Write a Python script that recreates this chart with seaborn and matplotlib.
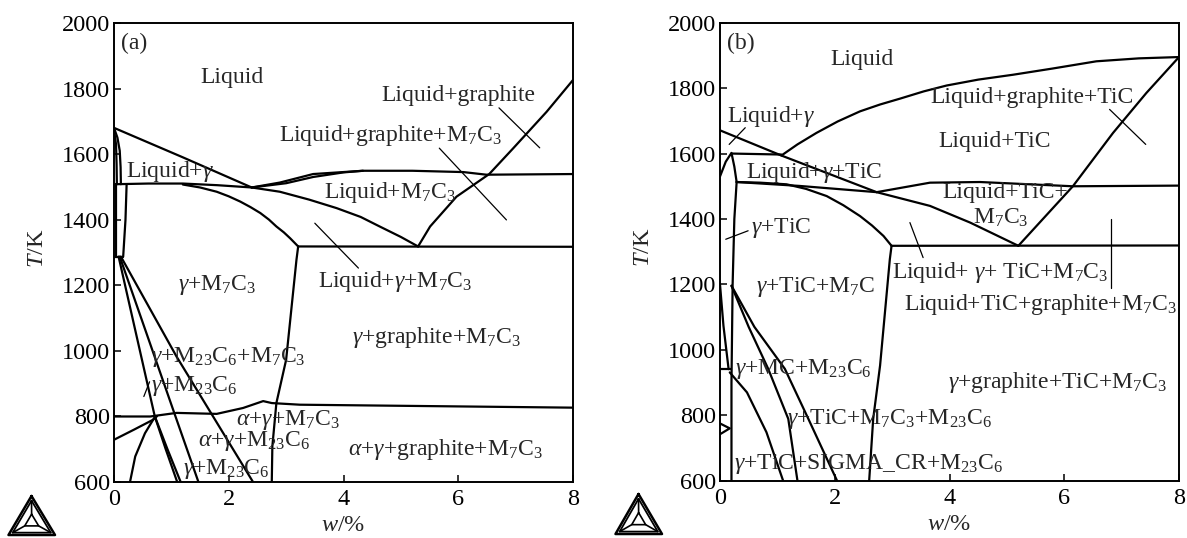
import matplotlib
matplotlib.use("Agg")
import matplotlib.pyplot as plt
from matplotlib.lines import Line2D
import seaborn as sns
import pandas as pd

# ---------------- phase boundaries, panel (a): (w %, T K) ----------------
a_liquidus = [(0, 1680), (1.2, 1590), (2.4, 1498)]
a_solidus_outer = [(0, 1680), (0.06, 1650), (0.10, 1610), (0.115, 1560), (0.12, 1508)]
a_solidus_inner = [(0, 1675), (0.035, 1630), (0.045, 1570), (0.05, 1508)]
a_line_1508 = [(0.03, 1508), (0.6, 1510), (1.2, 1510), (1.8, 1505), (2.4, 1498),
               (2.89, 1485), (3.4, 1461), (3.88, 1435), (4.3, 1408), (4.63, 1379),
               (5.0, 1347), (5.3, 1318)]
a_m7c3_upper = [(2.4, 1498), (2.89, 1513), (3.47, 1539), (4.34, 1549), (5.2, 1549),
                (6.09, 1545), (6.49, 1537), (8, 1539)]
a_m7c3_upper2 = [(2.4, 1498), (3.0, 1511), (3.47, 1530), (4.0, 1544), (4.34, 1549)]
a_gamma_solvus = [(1.2, 1507), (1.5, 1498), (1.79, 1485), (2.0, 1471), (2.2, 1455),
                  (2.38, 1438), (2.55, 1420), (2.7, 1400), (2.83, 1379), (2.96, 1361),
                  (3.07, 1343), (3.21, 1318)]
a_eutectic = [(3.21, 1318), (8, 1317)]
a_graphite_liq = [(5.3, 1318), (5.51, 1379), (5.97, 1470), (6.54, 1539), (6.96, 1618),
                  (7.54, 1729), (8, 1826)]
a_m7c3_limit = [(3.21, 1318), (3.18, 1277), (3.0, 972), (2.83, 840), (2.76, 708), (2.75, 600)]
a_gamma_left = [(0.035, 1508), (0.035, 1287)]
a_gamma_right = [(0.22, 1508), (0.2, 1399), (0.16, 1287)]
a_gamma_base = [(0, 1287), (0.16, 1287)]
a_fan1 = [(0.08, 1287), (0.71, 800), (0.9, 700), (1.1, 600)]
a_fan1b = [(0.71, 800), (0.93, 700), (1.16, 600)]
a_fan2 = [(0.1, 1287), (1.05, 810), (1.47, 600)]
a_fan3 = [(0.12, 1287), (1.09, 982), (2.42, 600)]
a_alpha_top = [(0, 799), (0.63, 799), (1.09, 810), (1.79, 807), (2.25, 825), (2.6, 846),
               (2.75, 840), (3.24, 835), (8, 826)]
a_alpha_low = [(0, 728), (0.35, 759), (0.68, 789), (0.75, 800)]
a_alpha_arc = [(0.28, 600), (0.37, 677), (0.54, 748), (0.72, 800)]
a_leaders = [
    [(6.71, 1741), (7.42, 1619)],
    [(5.67, 1618), (6.84, 1399)],
    [(3.50, 1389), (4.26, 1252)],
    [(0.62, 905), (0.52, 860)],
]

# ---------------- phase boundaries, panel (b) ----------------
b_liquidus = [(0, 1671), (1.07, 1594), (2.73, 1482), (3.66, 1440), (4.36, 1389), (5.2, 1318)]
b_tic_liq = [(1.07, 1594), (1.35, 1628), (1.68, 1663), (2.05, 1698), (2.44, 1729),
             (2.79, 1750), (3.14, 1768), (3.55, 1790), (3.95, 1808), (4.5, 1826),
             (5.11, 1841), (5.8, 1860), (6.56, 1882), (7.3, 1891), (8, 1895)]
b_line_1600 = [(0.2, 1600), (1.07, 1597)]
b_gamma_cap = [(0, 1530), (0.1, 1575), (0.2, 1602), (0.25, 1560), (0.29, 1513)]
b_gamma_limit = [(0.29, 1513), (0.25, 1400), (0.22, 1200), (0.2, 900), (0.2, 600)]
b_three_phase = [(0.29, 1513), (1.39, 1501), (2.73, 1482)]
b_gamma_solvus = [(0.29, 1513), (0.7, 1511), (1.16, 1506), (1.5, 1492), (1.86, 1470),
                  (2.15, 1442), (2.44, 1409), (2.65, 1380), (2.85, 1348), (2.99, 1318)]
b_m7c3_upper = [(2.73, 1482), (3.66, 1511), (4.53, 1513), (6.15, 1500), (8, 1502)]
b_eutectic = [(2.99, 1318), (8, 1319)]
b_graphite_liq = [(5.2, 1318), (6.15, 1500), (6.85, 1663), (7.43, 1785), (8, 1895)]
b_m7c3_limit = [(2.99, 1318), (2.96, 1277), (2.79, 952), (2.67, 789), (2.6, 600)]
b_mc_left = [(0, 1200), (0.06, 1074), (0.15, 941)]
b_mc_base = [(0, 941), (0.2, 941)]
b_fan1 = [(0.2, 1196), (0.6, 1070), (1.13, 942), (1.54, 789), (2.04, 600)]
b_fan2 = [(0.2, 1196), (0.5, 1070), (0.84, 942), (1.19, 789), (1.35, 600)]
b_fan3 = [(0.17, 931), (0.47, 870), (0.81, 748), (1.10, 600)]
b_sigma = [(0, 775), (0.17, 760), (0, 742)]
b_leaders = [
    [(0.16, 1628), (0.44, 1679)],
    [(0.10, 1338), (0.49, 1364)],
    [(6.79, 1735), (7.42, 1628)],
    [(3.31, 1389), (3.54, 1282)],
    [(6.82, 1400), (6.82, 1190)],
]

x_ticks = [0, 2, 4, 6, 8]
y_ticks = [600, 800, 1000, 1200, 1400, 1600, 1800, 2000]

a_labels = [
    ("Liquid", 2.05, 1834),
    ("Liquid+graphite", 6.0, 1780),
    ("Liquid+graphite+M$_7$C$_3$", 4.81, 1658),
    ("Liquid+$\\gamma$", 0.98, 1546),
    ("Liquid+M$_7$C$_3$", 4.81, 1482),
    ("Liquid+$\\gamma$+M$_7$C$_3$", 4.9, 1211),
    ("$\\gamma$+M$_7$C$_3$", 1.80, 1201),
    ("$\\gamma$+graphite+M$_7$C$_3$", 5.62, 1041),
    ("$\\gamma$+M$_{23}$C$_6$+M$_7$C$_3$", 2.0, 982),
    ("$\\gamma$+M$_{23}$C$_6$", 1.40, 891),
    ("$\\alpha$+$\\gamma$+M$_7$C$_3$", 3.04, 789),
    ("$\\alpha$+$\\gamma$+M$_{23}$C$_6$", 2.45, 723),
    ("$\\gamma$+M$_{23}$C$_6$", 1.95, 638),
    ("$\\alpha$+$\\gamma$+graphite+M$_7$C$_3$", 5.77, 698),
]
b_labels = [
    ("Liquid", 2.47, 1886),
    ("Liquid+$\\gamma$", 0.89, 1712),
    ("Liquid+$\\gamma$+TiC", 1.64, 1543),
    ("$\\gamma$+TiC", 1.06, 1371),
    ("Liquid+graphite+TiC", 5.44, 1770),
    ("Liquid+TiC", 4.78, 1638),
    ("Liquid+TiC+", 4.97, 1480),
    ("M$_7$C$_3$", 4.89, 1404),
    ("Liquid+ $\\gamma$+ TiC+M$_7$C$_3$", 4.88, 1237),
    ("Liquid+TiC+graphite+M$_7$C$_3$", 5.59, 1140),
    ("$\\gamma$+graphite+TiC+M$_7$C$_3$", 5.88, 901),
    ("$\\gamma$+TiC+M$_7$C", 1.66, 1191),
    ("$\\gamma$+MC+M$_{23}$C$_6$", 1.46, 942),
    ("$\\gamma$+TiC+M$_7$C$_3$+M$_{23}$C$_6$", 2.96, 789),
    ("$\\gamma$+TiC+SIGMA_CR+M$_{23}$C$_6$", 2.6, 652),
]

sns.set_theme(style="ticks")
plt.rcParams["font.family"] = ["Liberation Serif", "DejaVu Serif"]
plt.rcParams["mathtext.fontset"] = "custom"
plt.rcParams["mathtext.rm"] = "Liberation Serif"
plt.rcParams["mathtext.it"] = "Liberation Serif:italic"
plt.rcParams["mathtext.bf"] = "Liberation Serif:bold"

W, H = 1187, 538
fig = plt.figure(figsize=(W / 100, H / 100), dpi=100)
fig.patch.set_facecolor("white")

ax_a = fig.add_axes([114 / W, 56.3 / H, 459 / W, 458.7 / H])
ax_b = fig.add_axes([720 / W, 57.3 / H, 459 / W, 458.0 / H])

BOUNDARY_LW = 1.6
LEADER_LW = 0.9
FS = 17


def draw_curve(ax, pts, lw=BOUNDARY_LW):
    df = pd.DataFrame(pts, columns=["w", "T"])
    sns.lineplot(data=df, x="w", y="T", ax=ax, sort=False, estimator=None,
                 color="black", linewidth=lw, legend=False)


def style_axes(ax, tag):
    ax.set_xlim(0, 8)
    ax.set_ylim(600, 2000)
    ax.set_xticks(x_ticks)
    ax.set_yticks(y_ticks)
    ax.set_xticklabels([str(t) for t in x_ticks])
    ax.set_yticklabels([str(t) for t in y_ticks])
    ax.tick_params(direction="in", length=5, width=1.1, labelsize=17.5, colors="black",
                   bottom=True, left=True, top=False, right=False)
    ax.tick_params(axis="x", pad=5)
    ax.tick_params(axis="y", pad=3)
    for s in ax.spines.values():
        s.set_visible(True)
        s.set_linewidth(1.4)
        s.set_color("black")
    ax.set_xlabel("$w$/%", fontsize=17.5)
    ax.set_ylabel("$T$/K", fontsize=17.5)
    ax.xaxis.set_label_coords(0.5, -0.072)
    ax.yaxis.set_label_coords(-0.144, 0.51)
    ax.text(0.12, 1938, tag, fontsize=FS, ha="left", va="center")


for curve in [a_liquidus, a_solidus_outer, a_solidus_inner, a_line_1508, a_m7c3_upper,
              a_m7c3_upper2, a_gamma_solvus, a_eutectic, a_graphite_liq, a_m7c3_limit,
              a_gamma_left, a_gamma_right, a_gamma_base, a_fan1, a_fan1b, a_fan2, a_fan3,
              a_alpha_top, a_alpha_low, a_alpha_arc]:
    draw_curve(ax_a, curve)
for seg in a_leaders:
    draw_curve(ax_a, seg, lw=LEADER_LW)
for txt, w, t in a_labels:
    ax_a.text(w, t, txt, fontsize=FS, ha="center", va="center")
style_axes(ax_a, "(a)")

for curve in [b_liquidus, b_tic_liq, b_line_1600, b_gamma_cap, b_gamma_limit, b_three_phase,
              b_gamma_solvus, b_m7c3_upper, b_eutectic, b_graphite_liq, b_m7c3_limit,
              b_mc_left, b_mc_base, b_fan1, b_fan2, b_fan3, b_sigma]:
    draw_curve(ax_b, curve)
for seg in b_leaders:
    draw_curve(ax_b, seg, lw=LEADER_LW)
for txt, w, t in b_labels:
    ax_b.text(w, t, txt, fontsize=FS, ha="center", va="center")
style_axes(ax_b, "(b)")


def draw_logo(apex, left, right):
    """Triangular software emblem drawn in figure pixel coordinates."""
    def px(p):
        return (p[0] / W, 1 - p[1] / H)

    cx = (apex[0] + left[0] + right[0]) / 3
    cy = (apex[1] + left[1] + right[1]) / 3

    def scaled(p, k):
        return (cx + (p[0] - cx) * k, cy + (p[1] - cy) * k)

    for k, lw in [(1.0, 1.8), (0.82, 1.3)]:
        tri = [scaled(apex, k), scaled(left, k), scaled(right, k), scaled(apex, k)]
        xs, ys = zip(*[px(p) for p in tri])
        fig.add_artist(Line2D(xs, ys, transform=fig.transFigure, color="black", lw=lw))
    inner = [scaled(apex, 0.3), scaled(left, 0.3), scaled(right, 0.3)]
    xs, ys = zip(*[px(p) for p in inner + [inner[0]]])
    fig.add_artist(Line2D(xs, ys, transform=fig.transFigure, color="black", lw=1.2))
    for v_in, v_out in zip(inner, [apex, left, right]):
        a, b = px(v_in), px(scaled(v_out, 0.82))
        fig.add_artist(Line2D([a[0], b[0]], [a[1], b[1]], transform=fig.transFigure,
                              color="black", lw=1.2))


draw_logo((31.5, 496), (8.5, 535), (55, 535))
draw_logo((638.5, 494), (615.5, 534), (662, 534))

fig.savefig("out.png", dpi=100, facecolor="white")
